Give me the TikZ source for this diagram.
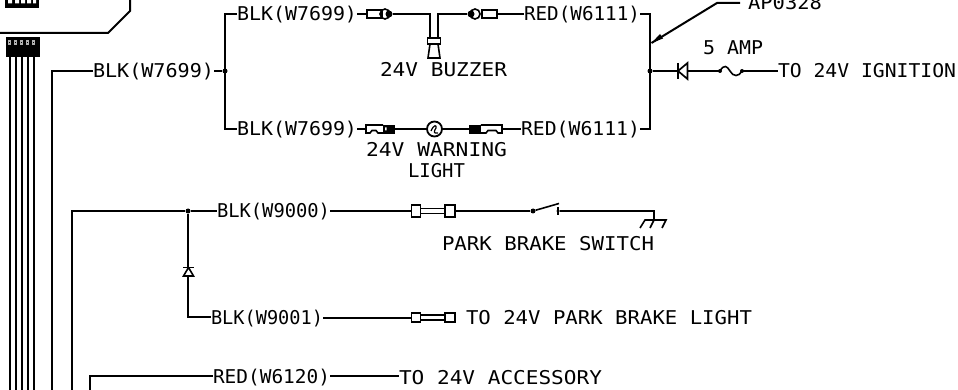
\documentclass[tikz,border=0pt]{standalone}
\usepackage{fontspec}
\setmonofont{DejaVu Sans Mono}
\newcommand{\lbl}[2]{\resizebox{#1pt}{\height}{\fontsize{19}{22}\ttfamily #2}}
\tikzset{
 wire/.style={draw=black,line width=2pt,line cap=butt,line join=miter},
 thinw/.style={draw=black,line width=1.8pt},
 txt/.style={anchor=base west,inner sep=0pt,outer sep=0pt,text=black},
 junct/.style={circle,fill=black,inner sep=0pt,minimum size=5pt},
 solid box/.style={fill=black,draw=black,line width=.8pt},
 openbox/.style={draw=black,line width=1.8pt,fill=white,inner sep=0pt},
}
\begin{document}
\begin{tikzpicture}[x=1pt,y=-1pt]
\clip (0,0) rectangle (958,390);
\fill[white] (0,0) rectangle (958,390);
% labels
\node[txt] (b1) at (93,78) {\lbl{121}{BLK(W7699)}};
\node[txt] (b2) at (237,21) {\lbl{120}{BLK(W7699)}};
\node[txt] (b3) at (237,136) {\lbl{120}{BLK(W7699)}};
\node[txt] (r1) at (524,21) {\lbl{116}{RED(W6111)}};
\node[txt] (r2) at (521,136) {\lbl{119}{RED(W6111)}};
\node[txt] (tbuz) at (380,77) {\lbl{127}{24V BUZZER}};
\node[txt] (twarn) at (366,157) {\lbl{141}{24V WARNING}};
\node[txt] (tlight) at (408,178) {\lbl{57}{LIGHT}};
\node[txt] (tap) at (748,10) {\lbl{74}{AP0328}};
\node[txt] (tamp) at (703,55) {\lbl{60}{5 AMP}};
\node[txt] (tign) at (778,78) {\lbl{178}{TO 24V IGNITION}};
\node[txt] (b9000) at (217,218) {\lbl{113}{BLK(W9000)}};
\node[txt] (b9001) at (211,324) {\lbl{112}{BLK(W9001)}};
\node[txt] (tpark) at (442,251) {\lbl{212}{PARK BRAKE SWITCH}};
\node[txt] (tpl) at (466,324) {\lbl{286}{TO 24V PARK BRAKE LIGHT}};
\node[txt] (r3) at (213,383) {\lbl{117}{RED(W6120)}};
\node[txt] (tacc) at (399,384) {\lbl{203}{TO 24V ACCESSORY}};
% junctions and free ends
\node[junct] (j1) at (225,71) {};
\node[junct] (j2) at (650,71) {};
\node[junct] (j3) at (188,211) {};
\coordinate (ltop) at (225,14);\coordinate (lbot) at (225,129);
\coordinate (rtop) at (650,14);\coordinate (rbot) at (650,129);
% left block
\draw[wire] (0,33) -- (108,33) -- (130,11) -- (130,0);
\draw[wire] (6,0) -- (6,7.5) -- (38,7.5) -- (38,0);
\fill (5,0) rectangle (39,8);
\fill[white] (8,0) rectangle (12,3.5) (15,0) rectangle (19,3.5) (21,0) rectangle (25,3.5) (27,0) rectangle (31,3.5) (33,0) rectangle (36,3.5);
\node[draw=black,fill=black,inner sep=0pt,minimum width=33pt,minimum height=19pt,anchor=north west] (conn) at (5.5,37.5) {};
\foreach \x in {9,15,21,27,33}{\fill[white!70!black] (\x-1,40) rectangle (\x+2,45);\fill[black] (\x,42) rectangle (\x+1,43);}
\foreach \x in {10,16,22,28,34}{\draw[wire] (\x,56) -- (\x,390);}
% long wires
\coordinate (w1) at (52,390);\coordinate (w2) at (72,390);\coordinate (w3) at (90,390);
\draw[wire] (w1) |- (b1.west |- 0,71);
\draw[wire] (b1.east |- 0,71) -- (j1);
\draw[wire] (b2.west |- 0,14) -- (ltop) -- (lbot) -- (b3.west |- 0,129);
\draw[wire] (r1.east |- 0,14) -- (rtop) -- (rbot) -- (r2.east |- 0,129);
% buzzer
\node[openbox,minimum width=15pt,minimum height=8pt,anchor=west] (c1) at (366,14) {};
\node[openbox,minimum width=15pt,minimum height=8pt,anchor=west] (c2) at (481,14) {};
\node[circle,draw=black,line width=1.6pt,minimum size=10pt,inner sep=0pt] (c1b) at (385,14) {};
\node[circle,draw=black,line width=1.6pt,minimum size=10pt,inner sep=0pt] (c2b) at (475,14) {};
\node[circle,fill=black,minimum size=7pt,inner sep=0pt] (c1c) at (389,14) {};
\node[circle,fill=black,minimum size=7pt,inner sep=0pt] (c2c) at (471,14) {};
\draw[wire] (b2.east |- 0,14) -- (c1);
\draw[wire] (c2) -- (r1.west |- 0,14);
\node[openbox,minimum width=13pt,minimum height=6pt] (buz) at (434,41) {};
\draw[wire] (c1c) -| (430,38);
\draw[wire] (c2c) -| (438,38);
\draw[wire,line width=1.6pt] (430,44) -- (428,58) -- (440,58) -- (438,44);
% warning light
\node[circle,draw=black,line width=1.8pt,fill=white,minimum size=15pt,inner sep=0pt] (lamp) at (434.5,129) {};
\draw[line width=1.2pt] (431,131) .. controls (434,124) and (437,125) .. (436,128) .. controls (434,131) and (433,134) .. (438,133);
\node[solid box,minimum width=11pt,minimum height=8pt,inner sep=0pt] (k1) at (389,129) {};
\node[solid box,minimum width=11pt,minimum height=8pt,inner sep=0pt] (k2) at (475,129) {};
\draw[wire,line width=1.6pt] (k1.west) ++(0,-4) -- (366,125) -- (366,133) -- (370,133) -- (372,130.5) -- (376,130.5) -- (378,133) -- (383.5,133);
\draw[wire,line width=1.6pt] (k2.east) ++(0,-4) -- (502,125) -- (502,133) -- (498,133) -- (496,130.5) -- (488,130.5) -- (486,133) -- (480.5,133);
\fill[white] (385,127.5) rectangle (386.5,130.5) (482,127.5) rectangle (484,130.5);
\draw[wire] (b3.east |- 0,129) -- (366,129);
\draw[wire] (k1) -- (lamp) -- (k2);
\draw[wire] (502,129) -- (r2.west |- 0,129);
% ignition branch
\node[inner sep=0pt,minimum width=10pt,minimum height=16pt] (d1) at (683,71) {};
\draw[wire,line width=1.7pt] (678,63) -- (678,79);
\draw[wire,line width=1.7pt] (687.5,63) -- (687.5,79) -- (678,71) -- cycle;
\draw[wire] (j2) -- (d1.west);
\coordinate (f1) at (720,71);\coordinate (f2) at (742,71);
\draw[wire] (d1.east) -- (f1);
\draw[wire,line width=1.6pt] (f1) .. controls (724,64) and (727,66) .. (730,71) .. controls (733,77) and (739,77) .. (f2);
\draw[wire] (f2) -- (tign.west |- 0,71);
\fill (f1) circle (2pt) (f2) circle (2pt);
% leader
\coordinate (la) at (651.5,43);\coordinate (lb) at (717,3);\coordinate (lc) at (740,3);
\draw[wire] (lc) -- (lb) -- (la);
\fill (651.5,43) -- (660,34) -- (663,38.5) -- cycle;
% park brake
\coordinate (w2top) at (72,211);
\draw[wire] (w2) -- (w2top) -- (j3) -- (b9000.west |- 0,211);
\node[openbox,minimum width=9pt,minimum height=12pt] (fa) at (416,211) {};
\node[openbox,minimum width=10pt,minimum height=12pt] (fb) at (450,211) {};
\draw[thinw] (fa.east |- 0,208.5) -- (fb.west |- 0,208.5) (fa.east |- 0,213.5) -- (fb.west |- 0,213.5);
\draw[wire] (b9000.east |- 0,211) -- (fa);
\node[junct] (s1) at (533,211) {};
\node[junct,minimum size=3.5pt] (s2) at (558,211) {};
\draw[wire] (fb) -- (s1);
\draw[wire,line width=1.6pt] (s1) -- (559,203.5);
\draw[wire,line width=1.5pt] (558,207) -- (558,215);
\coordinate (g0) at (654,211);\coordinate (g1) at (654,220);
\draw[wire] (s2) -- (g0) -- (g1);
\draw[wire,line width=1.6pt] (640,228) -- (645,220) -- (666,220) -- (662,228) (654,220) -- (650,228);
% diode down
\coordinate (dc) at (188,317);
\node[inner sep=0pt,minimum width=10pt,minimum height=9pt] (d2) at (188,272) {};
\draw[wire,line width=1.6pt] (183,267.5) -- (194,267.5);
\draw[wire,line width=1.6pt] (183.5,276) -- (193.5,276) -- (188.5,267.5) -- cycle;
\draw[wire] (j3) -- (d2.north);
\draw[wire] (d2.south) -- (dc) -- (b9001.west |- 0,317);
\node[openbox,minimum width=9pt,minimum height=9pt] (fc) at (416,317.5) {};
\node[openbox,minimum width=10pt,minimum height=9pt] (fd) at (450,317.5) {};
\draw[thinw] (fc.east |- 0,315) -- (fd.west |- 0,315) (fc.east |- 0,320) -- (fd.west |- 0,320);
\draw[wire] (b9001.east |- 0,317.5) -- (fc);
% accessory
\draw[wire] (w3) |- (r3.west |- 0,376);
\draw[wire] (r3.east |- 0,376) -- (tacc.west |- 0,376);
\end{tikzpicture}
\end{document}
